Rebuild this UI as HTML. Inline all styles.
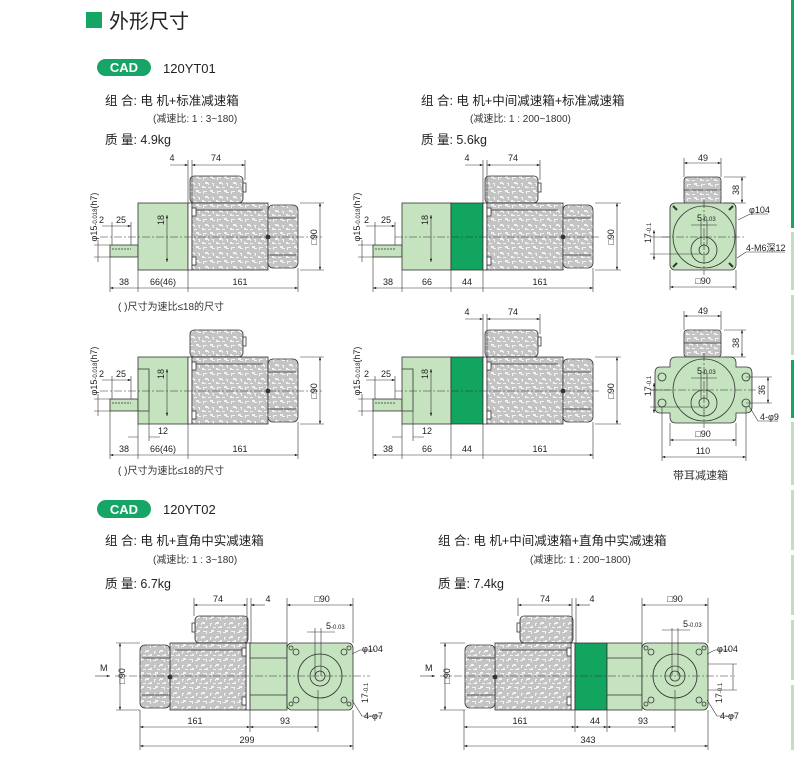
<!DOCTYPE html>
<html><head><meta charset="utf-8"><style>
html,body{margin:0;padding:0;background:#fff;}
svg{display:block;font-family:"Liberation Sans","Noto Sans CJK SC",sans-serif;}
.d{font-size:9px;fill:#222;}
.t{font-size:12.5px;fill:#222;}
.s{font-size:10px;fill:#333;}
</style></head><body>
<svg width="794" height="758" viewBox="0 0 794 758" xmlns="http://www.w3.org/2000/svg">
<defs>
<pattern id="sp" width="14" height="14" patternUnits="userSpaceOnUse">
<rect width="14" height="14" fill="#c4c4c4"/>
<path d="M1 2h4v1h-3v2h-1zM8 1h3v2h2v1h-3v-1h-2zM3 7h3v1h1v2h-1v-1h-3zM10 8h2v3h-1v-2h-1zM0 11h2v1h2v1h-4zM6 12h3v1h-3z" fill="#f2f2f2"/>
</pattern>
<marker id="a" viewBox="0 0 8 6" refX="8" refY="3" markerWidth="6" markerHeight="4" orient="auto-start-reverse"><path d="M0 0L8 3L0 6z" fill="#222"/></marker>
<g id="motor" stroke="#333" stroke-width="0.8">
<rect x="2" y="-27" width="53" height="27" rx="4" fill="url(#sp)"/>
<rect x="55" y="-20" width="3" height="9" fill="#fff"/>
<rect x="0" y="0" width="4" height="67" fill="#fff"/>
<rect x="4" y="0" width="76" height="67" fill="url(#sp)"/>
<path d="M4 7H75" fill="none"/>
<rect x="4" y="5" width="4" height="8" fill="#fff"/>
<rect x="4" y="54" width="4" height="8" fill="#fff"/>
<rect x="80" y="2" width="30" height="63" rx="5" fill="url(#sp)"/>
<path d="M80 15H108M80 52H108" fill="none"/>
<circle cx="80" cy="34" r="2" fill="#333"/>
</g>
<g id="sq" stroke="#333" stroke-width="0.8" fill="none">
<rect x="-33" y="-33" width="66" height="67" rx="5" fill="#c5e3bf"/>
<circle r="22"/><circle r="10"/><circle r="5"/>
<circle cx="-24" cy="-24" r="3"/><circle cx="24" cy="-24" r="3"/><circle cx="-24" cy="24" r="3"/><circle cx="24" cy="24" r="3"/>
<circle cx="-29" cy="-28" r="2"/><circle cx="29" cy="-28" r="2"/><circle cx="-29" cy="28" r="2"/><circle cx="29" cy="28" r="2"/>
</g>
</defs>

<rect x="791" y="0" width="3" height="228" fill="#17a567"/>
<rect x="791" y="232" width="3" height="58" fill="#bfe0bb"/>
<rect x="791" y="295" width="3" height="60" fill="#bfe0bb"/>
<rect x="791" y="360" width="3" height="58" fill="#17a567"/>
<rect x="791" y="422" width="3" height="63" fill="#bfe0bb"/>
<rect x="791" y="490" width="3" height="60" fill="#bfe0bb"/>
<rect x="791" y="555" width="3" height="60" fill="#bfe0bb"/>
<rect x="791" y="620" width="3" height="60" fill="#bfe0bb"/>
<rect x="791" y="685" width="3" height="65" fill="#bfe0bb"/>

<rect x="86" y="12" width="16" height="16" fill="#17a567"/>
<text x="109" y="28" style="font-size:20px" fill="#222">外形尺寸</text>
<rect x="97" y="59" width="54" height="17" rx="8.5" fill="#17a567"/>
<text x="124" y="72" text-anchor="middle" style="font-size:13px;font-weight:bold" fill="#fff">CAD</text>
<text x="163" y="73" style="font-size:13px" fill="#222">120YT01</text>
<text x="105" y="105" class="t">组 合: 电 机+标准减速箱</text>
<text x="153" y="122" class="s">(减速比: 1 : 3~180)</text>
<text x="105" y="144" class="t">质 量: 4.9kg</text>
<text x="421" y="105" class="t">组 合: 电 机+中间减速箱+标准减速箱</text>
<text x="470" y="122" class="s">(减速比: 1 : 200~1800)</text>
<text x="421" y="144" class="t">质 量: 5.6kg</text>

<rect x="97" y="500" width="54" height="18" rx="9" fill="#17a567"/>
<text x="124" y="514" text-anchor="middle" style="font-size:13px;font-weight:bold" fill="#fff">CAD</text>
<text x="163" y="514" style="font-size:13px" fill="#222">120YT02</text>
<text x="105" y="545" class="t">组 合: 电 机+直角中实减速箱</text>
<text x="153" y="563" class="s">(减速比: 1 : 3~180)</text>
<text x="105" y="588" class="t">质 量: 6.7kg</text>
<text x="438" y="545" class="t">组 合: 电 机+中间减速箱+直角中实减速箱</text>
<text x="530" y="563" class="s">(减速比: 1 : 200~1800)</text>
<text x="438" y="588" class="t">质 量: 7.4kg</text>

<!-- ROW1 LEFT -->
<g stroke="#333" stroke-width="0.8" fill="none">
<rect x="110" y="245" width="28" height="12" fill="#c5e3bf"/>
<path d="M112 249H131" stroke-dasharray="2 1"/>
<rect x="138" y="203" width="50" height="67" fill="#c5e3bf"/>
</g>
<use href="#motor" transform="translate(188,203)"/>
<g stroke="#333" stroke-width="0.6" fill="none">
<path d="M100 237H322" stroke-dasharray="8 2 2 2"/>
<path d="M167 215V262" marker-start="url(#a)" marker-end="url(#a)"/>
<path d="M112 222V245M131 222V245M98 240V262M94 245H110M94 257H110"/>
<path d="M102 226H131" marker-end="url(#a)"/>
<path d="M110 257V292M138 270V292M188 270V292M298 268V292"/>
<path d="M110 288H298" marker-start="url(#a)" marker-end="url(#a)"/>
<path d="M188 160V203M192 160V203M245 160V180"/>
<path d="M170 165H188" marker-end="url(#a)"/><path d="M192 165H245" marker-start="url(#a)" marker-end="url(#a)"/>
<path d="M300 203H324M300 270H324"/>
<path d="M320 203V270" marker-start="url(#a)" marker-end="url(#a)"/>
</g>
<g class="d">
<text x="99" y="223">2</text><text x="116" y="223">25</text>
<text x="124" y="285" text-anchor="middle">38</text><text x="163" y="285" text-anchor="middle">66(46)</text><text x="240" y="285" text-anchor="middle">161</text>
<text x="172" y="161" text-anchor="middle">4</text><text x="216" y="161" text-anchor="middle">74</text>
<text transform="translate(317,237) rotate(-90)" text-anchor="middle">□90</text>
<text transform="translate(164,220) rotate(-90)" text-anchor="middle">18</text>
<text transform="translate(97,217) rotate(-90)" text-anchor="middle">φ15<tspan style="font-size:6px">-0.018</tspan>(h7)</text>
</g>
<text x="118" y="310" class="s">( )尺寸为速比≤18的尺寸</text>

<!-- ROW2 LEFT -->
<g stroke="#333" stroke-width="0.8" fill="none">
<rect x="110" y="399" width="28" height="12" fill="#c5e3bf"/>
<path d="M112 403H131" stroke-dasharray="2 1"/>
<rect x="138" y="357" width="50" height="67" fill="#c5e3bf"/>
<path d="M138 369H149V411H138"/>
</g>
<use href="#motor" transform="translate(188,357)"/>
<g stroke="#333" stroke-width="0.6" fill="none">
<path d="M100 391H322" stroke-dasharray="8 2 2 2"/>
<path d="M167 369V416" marker-start="url(#a)" marker-end="url(#a)"/>
<path d="M112 376V399M131 376V399M98 394V416M94 399H110M94 411H110"/>
<path d="M102 380H131" marker-end="url(#a)"/>
<path d="M110 411V459M138 424V459M149 411V441M188 424V459M298 422V459"/>
<path d="M128 437H138M149 437H160" />
<path d="M110 455H298" marker-start="url(#a)" marker-end="url(#a)"/>
<path d="M300 357H324M300 424H324"/>
<path d="M320 357V424" marker-start="url(#a)" marker-end="url(#a)"/>
</g>
<g class="d">
<text x="99" y="377">2</text><text x="116" y="377">25</text>
<text x="163" y="434" text-anchor="middle">12</text>
<text x="124" y="452" text-anchor="middle">38</text><text x="163" y="452" text-anchor="middle">66(46)</text><text x="240" y="452" text-anchor="middle">161</text>
<text transform="translate(317,391) rotate(-90)" text-anchor="middle">□90</text>
<text transform="translate(164,374) rotate(-90)" text-anchor="middle">18</text>
<text transform="translate(97,371) rotate(-90)" text-anchor="middle">φ15<tspan style="font-size:6px">-0.018</tspan>(h7)</text>
</g>
<text x="118" y="474" class="s">( )尺寸为速比≤18的尺寸</text>

<!-- ROW1 MID -->
<g stroke="#333" stroke-width="0.8" fill="none">
<rect x="373" y="245" width="29" height="12" fill="#c5e3bf"/>
<path d="M375 249H395" stroke-dasharray="2 1"/>
<rect x="402" y="203" width="49" height="67" fill="#c5e3bf"/>
<rect x="451" y="203" width="32" height="67" fill="#12a560"/>
</g>
<use href="#motor" transform="translate(483,203)"/>
<g stroke="#333" stroke-width="0.6" fill="none">
<path d="M395 237H600" stroke-dasharray="8 2 2 2"/>
<path d="M431 215V262" marker-start="url(#a)" marker-end="url(#a)"/>
<path d="M375 222V245M395 222V245M362 240V262M358 245H373M358 257H373"/>
<path d="M366 226H395" marker-end="url(#a)"/>
<path d="M373 257V292M402 270V292M451 270V292M483 270V292M593 268V292"/>
<path d="M373 288H593" marker-start="url(#a)" marker-end="url(#a)"/>
<path d="M483 160V203M487 160V203M540 160V180"/>
<path d="M465 165H483" marker-end="url(#a)"/><path d="M487 165H540" marker-start="url(#a)" marker-end="url(#a)"/>
<path d="M595 203H621M595 270H621"/>
<path d="M617 203V270" marker-start="url(#a)" marker-end="url(#a)"/>
</g>
<g class="d">
<text x="364" y="223">2</text><text x="381" y="223">25</text>
<text x="388" y="285" text-anchor="middle">38</text><text x="427" y="285" text-anchor="middle">66</text><text x="467" y="285" text-anchor="middle">44</text><text x="540" y="285" text-anchor="middle">161</text>
<text x="467" y="161" text-anchor="middle">4</text><text x="513" y="161" text-anchor="middle">74</text>
<text transform="translate(614,237) rotate(-90)" text-anchor="middle">□90</text>
<text transform="translate(428,220) rotate(-90)" text-anchor="middle">18</text>
<text transform="translate(360,217) rotate(-90)" text-anchor="middle">φ15<tspan style="font-size:6px">-0.018</tspan>(h7)</text>
</g>

<!-- ROW2 MID -->
<g stroke="#333" stroke-width="0.8" fill="none">
<rect x="373" y="399" width="29" height="12" fill="#c5e3bf"/>
<path d="M375 403H395" stroke-dasharray="2 1"/>
<rect x="402" y="357" width="49" height="67" fill="#c5e3bf"/>
<path d="M402 369H413V411H402"/>
<rect x="451" y="357" width="32" height="67" fill="#12a560"/>
</g>
<use href="#motor" transform="translate(483,357)"/>
<g stroke="#333" stroke-width="0.6" fill="none">
<path d="M395 391H600" stroke-dasharray="8 2 2 2"/>
<path d="M431 369V416" marker-start="url(#a)" marker-end="url(#a)"/>
<path d="M375 376V399M395 376V399M362 394V416M358 399H373M358 411H373"/>
<path d="M366 380H395" marker-end="url(#a)"/>
<path d="M373 411V459M402 424V459M413 411V441M451 424V459M483 424V459M593 422V459"/>
<path d="M392 437H402M413 437H424"/>
<path d="M373 455H593" marker-start="url(#a)" marker-end="url(#a)"/>
<path d="M483 314V357M487 314V357M540 314V334"/>
<path d="M465 319H483" marker-end="url(#a)"/><path d="M487 319H540" marker-start="url(#a)" marker-end="url(#a)"/>
<path d="M595 357H621M595 424H621"/>
<path d="M617 357V424" marker-start="url(#a)" marker-end="url(#a)"/>
</g>
<g class="d">
<text x="364" y="377">2</text><text x="381" y="377">25</text>
<text x="427" y="434" text-anchor="middle">12</text>
<text x="388" y="452" text-anchor="middle">38</text><text x="427" y="452" text-anchor="middle">66</text><text x="467" y="452" text-anchor="middle">44</text><text x="540" y="452" text-anchor="middle">161</text>
<text x="467" y="315" text-anchor="middle">4</text><text x="513" y="315" text-anchor="middle">74</text>
<text transform="translate(614,391) rotate(-90)" text-anchor="middle">□90</text>
<text transform="translate(428,374) rotate(-90)" text-anchor="middle">18</text>
<text transform="translate(360,371) rotate(-90)" text-anchor="middle">φ15<tspan style="font-size:6px">-0.018</tspan>(h7)</text>
</g>

<!-- RIGHT TOP END VIEW -->
<g stroke="#333" stroke-width="0.8" fill="none">
<rect x="684" y="177" width="37" height="27" rx="3" fill="url(#sp)"/>
<path d="M684 190H721"/>
<rect x="670" y="203" width="66" height="67" rx="5" fill="#c5e3bf"/>
<circle cx="704" cy="237" r="31"/><circle cx="704" cy="250" r="13"/><circle cx="704" cy="250" r="5"/>
<path d="M673 206l4 4M733 206l-4 4M673 267l4-4M733 267l-4-4" stroke-width="2"/>
</g>
<g stroke="#333" stroke-width="0.6" fill="none">
<path d="M662 237H745M704 200V275" stroke-dasharray="8 2 2 2"/>
<path d="M684 158V177M721 158V177"/><path d="M684 163H721" marker-start="url(#a)" marker-end="url(#a)"/>
<path d="M724 177H746M724 203H746"/><path d="M742 177V203" marker-start="url(#a)" marker-end="url(#a)"/>
<path d="M670 270V290M736 270V290"/><path d="M670 287H736" marker-start="url(#a)" marker-end="url(#a)"/>
<path d="M650 237H670M650 254H700"/><path d="M654 230V260" marker-start="url(#a)" marker-end="url(#a)"/>
<path d="M691 225H717M701 220V245M707 220V245"/>
<path d="M738 220L750 214H768M737 258L746 252H785"/>
</g>
<g class="d">
<text x="703" y="161" text-anchor="middle">49</text>
<text transform="translate(739,190) rotate(-90)" text-anchor="middle">38</text>
<text x="749" y="213">φ104</text>
<text x="746" y="251">4-M6深12</text>
<text x="703" y="284" text-anchor="middle">□90</text>
<text x="697" y="221">5<tspan style="font-size:6px">-0.03</tspan></text>
<text transform="translate(651,233) rotate(-90)" text-anchor="middle">17<tspan style="font-size:6px">-0.1</tspan></text>
</g>

<!-- RIGHT BOTTOM EAR VIEW -->
<g stroke="#333" stroke-width="0.8" fill="none">
<rect x="684" y="330" width="37" height="27" rx="3" fill="url(#sp)"/>
<path d="M684 343H721"/>
<path d="M676 357H730Q736 357 736 363V367H746Q752 367 752 373V407Q752 413 746 413H736V417Q736 423 730 423H676Q670 423 670 417V413H660Q655 413 655 407V373Q655 367 660 367H670V363Q670 357 676 357Z" fill="#c5e3bf"/>
<circle cx="704" cy="390" r="31"/><circle cx="704" cy="403" r="13"/><circle cx="704" cy="403" r="5"/>
<circle cx="662" cy="377" r="4"/><circle cx="662" cy="403" r="4"/><circle cx="746" cy="377" r="4"/><circle cx="746" cy="403" r="4"/>
</g>
<g stroke="#333" stroke-width="0.6" fill="none">
<path d="M650 390H760M704 353V428" stroke-dasharray="8 2 2 2"/>
<path d="M684 311V330M721 311V330"/><path d="M684 316H721" marker-start="url(#a)" marker-end="url(#a)"/>
<path d="M724 330H746M724 357H746"/><path d="M742 330V357" marker-start="url(#a)" marker-end="url(#a)"/>
<path d="M746 377H772M746 403H772"/><path d="M768 377V403" marker-start="url(#a)" marker-end="url(#a)"/>
<path d="M670 423V446M736 423V446M662 407V461M746 407V461"/>
<path d="M670 440H736" marker-start="url(#a)" marker-end="url(#a)"/>
<path d="M662 457H746" marker-start="url(#a)" marker-end="url(#a)"/>
<path d="M650 390H670M650 407H700"/><path d="M654 383V413" marker-start="url(#a)" marker-end="url(#a)"/>
<path d="M691 378H717M701 373V398M707 373V398"/>
<path d="M749 406L758 421H778"/>
</g>
<g class="d">
<text x="703" y="314" text-anchor="middle">49</text>
<text transform="translate(739,343) rotate(-90)" text-anchor="middle">38</text>
<text transform="translate(765,390) rotate(-90)" text-anchor="middle">36</text>
<text x="760" y="420">4-φ9</text>
<text x="703" y="437" text-anchor="middle">□90</text>
<text x="703" y="454" text-anchor="middle">110</text>
<text x="697" y="374">5<tspan style="font-size:6px">-0.03</tspan></text>
<text transform="translate(651,386) rotate(-90)" text-anchor="middle">17<tspan style="font-size:6px">-0.1</tspan></text>
</g>
<text x="673" y="479" class="s" style="font-size:11px">带耳减速箱</text>

<!-- BOTTOM LEFT -->
<use href="#motor" transform="translate(250,643) scale(-1,1)"/>
<g stroke="#333" stroke-width="0.8" fill="none">
<rect x="250" y="643" width="37" height="67" fill="#c5e3bf"/>
<path d="M250 658H287M250 695H287"/>
</g>
<use href="#sq" transform="translate(320,676)"/>
<g stroke="#333" stroke-width="0.6" fill="none">
<path d="M115 676H370" stroke-dasharray="8 2 2 2"/>
<path d="M95 676H110" marker-end="url(#a)"/>
<path d="M116 643H140M116 710H140"/><path d="M120 643V710" marker-start="url(#a)" marker-end="url(#a)"/>
<path d="M194 598V616M247 598V643M251 598V643M287 598V643M353 598V643"/>
<path d="M194 605H247" marker-start="url(#a)" marker-end="url(#a)"/>
<path d="M251 605H265" marker-start="url(#a)"/>
<path d="M287 605H353" marker-start="url(#a)" marker-end="url(#a)"/>
<path d="M140 710V750M250 710V732M318 690V732M353 710V750"/>
<path d="M140 727H250" marker-start="url(#a)" marker-end="url(#a)"/>
<path d="M250 727H318" marker-start="url(#a)" marker-end="url(#a)"/>
<path d="M140 746H353" marker-start="url(#a)" marker-end="url(#a)"/>
<path d="M307 632H335M315 628V676M321 628V676"/>
<path d="M352 654L360 650H375M352 700L362 716H380"/>
</g>
<g class="d">
<text x="100" y="671">M</text>
<text transform="translate(125,676) rotate(-90)" text-anchor="middle">□90</text>
<text x="218" y="602" text-anchor="middle">74</text><text x="268" y="602" text-anchor="middle">4</text><text x="322" y="602" text-anchor="middle">□90</text>
<text x="326" y="629">5<tspan style="font-size:6px">-0.03</tspan></text>
<text x="362" y="652">φ104</text>
<text transform="translate(368,693) rotate(-90)" text-anchor="middle">17<tspan style="font-size:6px">-0.1</tspan></text>
<text x="364" y="719">4-φ7</text>
<text x="195" y="724" text-anchor="middle">161</text><text x="285" y="724" text-anchor="middle">93</text><text x="247" y="743" text-anchor="middle">299</text>
</g>

<!-- BOTTOM RIGHT -->
<use href="#motor" transform="translate(575,643) scale(-1,1)"/>
<g stroke="#333" stroke-width="0.8" fill="none">
<rect x="575" y="643" width="32" height="67" fill="#12a560"/>
<rect x="607" y="643" width="35" height="67" fill="#c5e3bf"/>
<path d="M607 658H642M607 695H642"/>
</g>
<use href="#sq" transform="translate(675,676)"/>
<g stroke="#333" stroke-width="0.6" fill="none">
<path d="M440 676H735" stroke-dasharray="8 2 2 2"/>
<path d="M420 676H435" marker-end="url(#a)"/>
<path d="M440 643H465M440 710H465"/><path d="M445 643V710" marker-start="url(#a)" marker-end="url(#a)"/>
<path d="M518 598V616M572 598V643M576 598V643M642 598V643M708 598V643"/>
<path d="M518 605H572" marker-start="url(#a)" marker-end="url(#a)"/>
<path d="M576 605H590" marker-start="url(#a)"/>
<path d="M642 605H708" marker-start="url(#a)" marker-end="url(#a)"/>
<path d="M464 710V750M575 710V732M607 710V732M675 690V732M708 710V750"/>
<path d="M464 727H575" marker-start="url(#a)" marker-end="url(#a)"/>
<path d="M575 727H607" marker-start="url(#a)" marker-end="url(#a)"/>
<path d="M607 727H675" marker-start="url(#a)" marker-end="url(#a)"/>
<path d="M464 746H708" marker-start="url(#a)" marker-end="url(#a)"/>
<path d="M662 630H690M672 628V676M678 628V676"/>
<path d="M708 664H737M708 690H737"/><path d="M733 664V690"/>
<path d="M707 654L715 650H730M707 700L717 716H735"/>
</g>
<g class="d">
<text x="425" y="671">M</text>
<text transform="translate(450,676) rotate(-90)" text-anchor="middle">□90</text>
<text x="545" y="602" text-anchor="middle">74</text><text x="592" y="602" text-anchor="middle">4</text><text x="675" y="602" text-anchor="middle">□90</text>
<text x="683" y="627">5<tspan style="font-size:6px">-0.03</tspan></text>
<text x="717" y="652">φ104</text>
<text transform="translate(722,693) rotate(-90)" text-anchor="middle">17<tspan style="font-size:6px">-0.1</tspan></text>
<text x="720" y="719">4-φ7</text>
<text x="520" y="724" text-anchor="middle">161</text><text x="595" y="724" text-anchor="middle">44</text><text x="643" y="724" text-anchor="middle">93</text><text x="588" y="743" text-anchor="middle">343</text>
</g>
</svg>
</body></html>
